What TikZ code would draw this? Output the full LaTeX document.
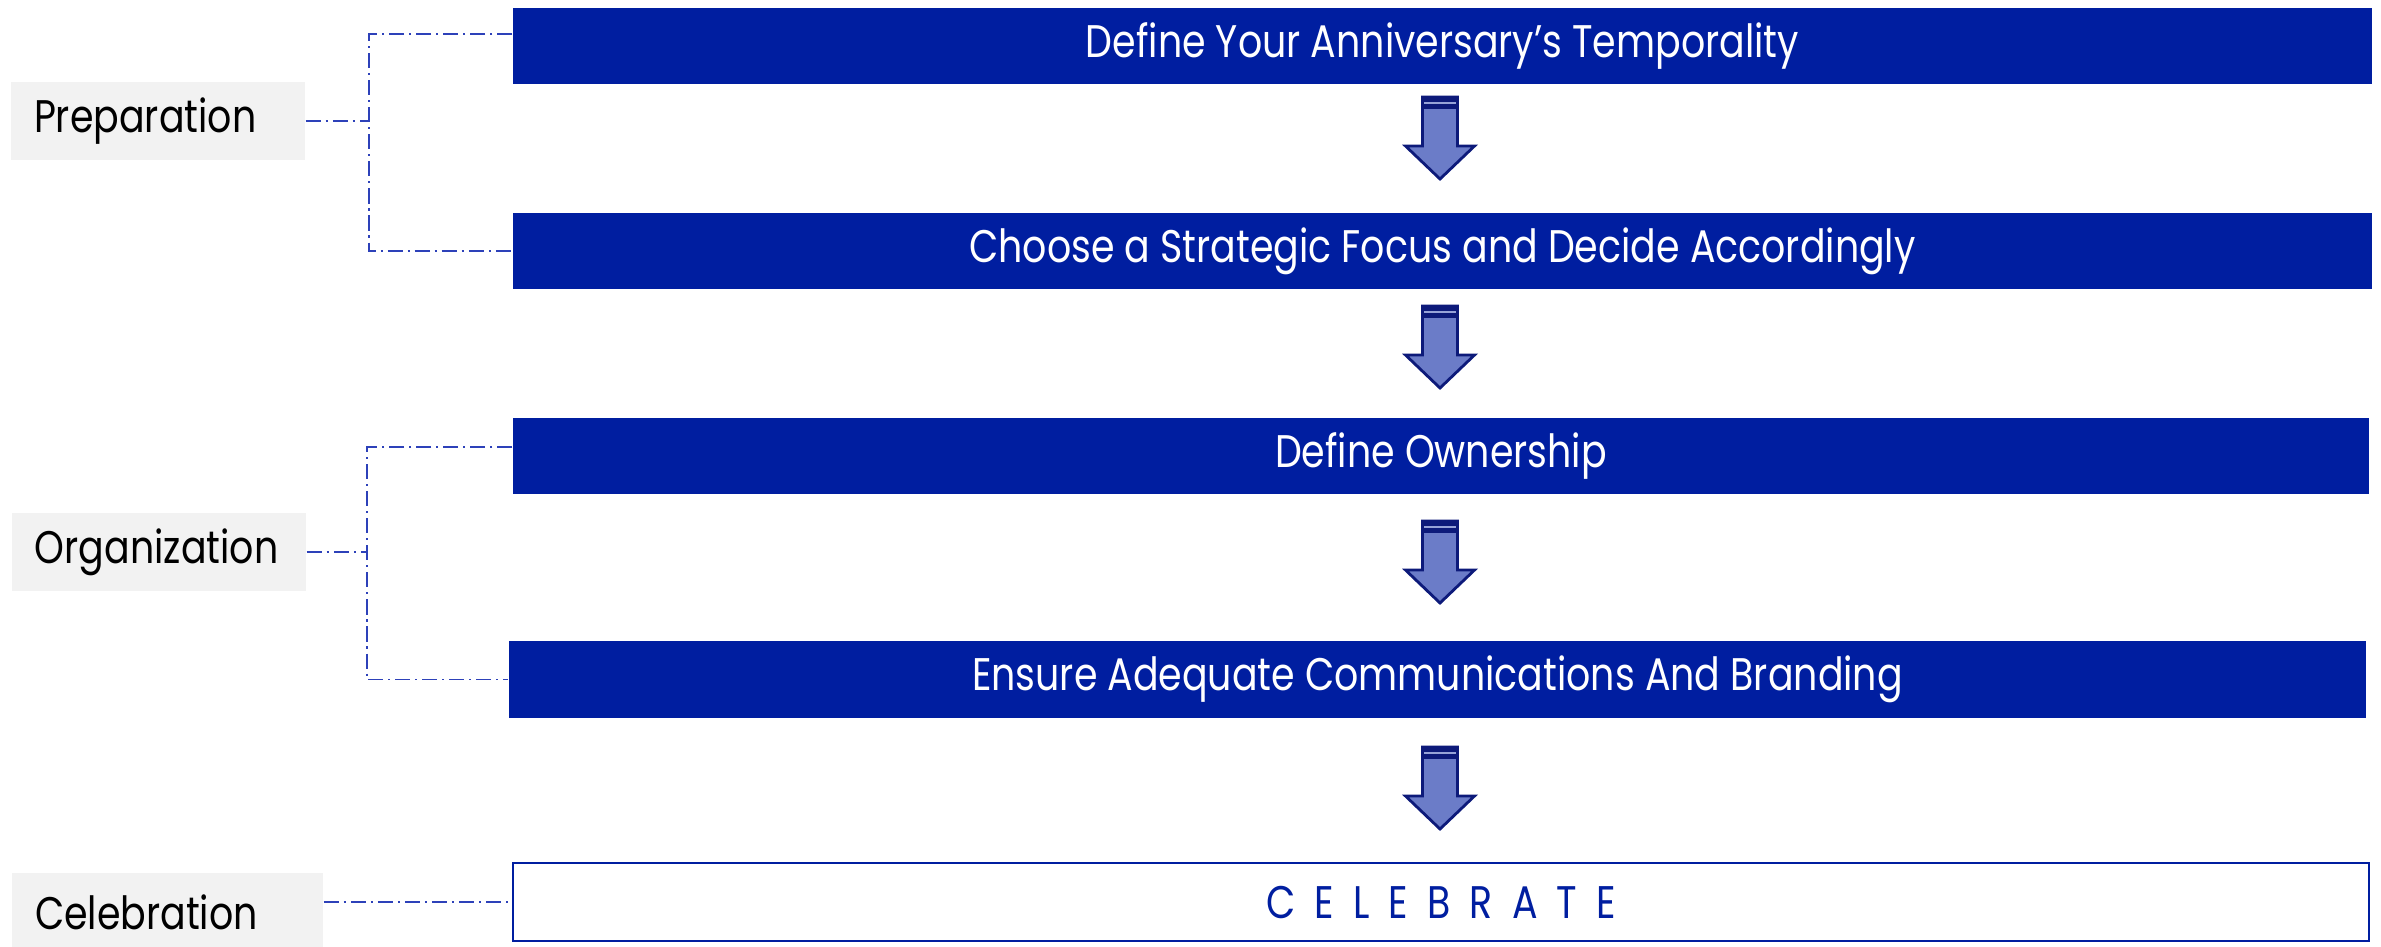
\documentclass[tikz,border=0pt]{standalone}
\usepackage{fontspec}
\setmainfont{Poppins}[FakeStretch=0.83]
\usetikzlibrary{calc}

\definecolor{navy}{RGB}{0,30,160}
\definecolor{arrowfill}{RGB}{107,124,200}
\definecolor{arrowline}{RGB}{13,26,122}
\definecolor{dashblue}{RGB}{45,65,185}
\definecolor{labelgray}{RGB}{242,242,242}

\begin{document}
\begin{tikzpicture}[
    stepbox/.style={fill=navy, text=white, minimum height=0.76cm, inner sep=0pt, font=\fontsize{13}{15}\selectfont},
    phase/.style={fill=labelgray, text=black, text width=2.48cm, inner xsep=0.23cm, inner ysep=0pt, minimum height=0.78cm, align=left, font=\fontsize{13}{15}\selectfont},
    link/.style={draw=dashblue, line width=0.45pt, dash pattern=on 4.3pt off 1.4pt on 0.6pt off 1.4pt}]
    \useasboundingbox (0,0) rectangle (23.81,-9.46);
    \node[stepbox, minimum width=18.59cm] (S1) at (14.425,-0.46) {Define Your Anniversary’s Temporality};
    \node[stepbox, minimum width=18.59cm] (S2) at (14.425,-2.51) {Choose a Strategic Focus and Decide Accordingly};
    \node[stepbox, minimum width=18.56cm] (S3) at (14.41,-4.56) {Define Ownership};
    \node[stepbox, minimum width=18.57cm, minimum height=0.77cm] (S4) at (14.375,-6.795) {Ensure Adequate Communications And Branding};
    \node[stepbox, minimum width=18.56cm, minimum height=0.78cm, fill=white, draw=navy, line width=0.6pt, text=navy] (S5) at (14.41,-9.02) {\addfontfeature{LetterSpace=42}CELEBRATE};
    \node[phase] (P) at (1.58,-1.21) {Preparation};
    \node[phase] (O) at (1.59,-5.52) {Organization};
    \node[phase, text width=2.65cm] (C) at (1.675,-9.12) {Celebration};
    \coordinate (Pt) at (3.69,-0.34); \coordinate (Pb) at (3.69,-2.51);
    \coordinate (Ot) at (3.67,-4.47); \coordinate (Ob) at (3.67,-6.795);
    \draw[link] (P.east) -- (P.east -| Pt);
    \draw[link] (Pt -| S1.west) -- (Pt) -- (Pb) -- (S2.west);
    \draw[link] (O.east) -- (O.east -| Ot);
    \draw[link] (Ot -| S3.west) -- (Ot) -- (Ob) -- (S4.west);
    \draw[link] (C.east |- S5.west) -- (S5.west);
    \foreach \y in {0.97,3.06,5.21,7.47} {
        \begin{scope}[shift={(14.40,-\y)}]
            \draw[fill=arrowfill, draw=arrowline, line width=0.8pt, line join=miter] (-0.175,0) -- (0.175,0) -- (0.175,-0.49) -- (0.345,-0.49) -- (0,-0.82) -- (-0.345,-0.49) -- (-0.175,-0.49) -- cycle;
            \fill[arrowline] (-0.175,0) rectangle (0.175,-0.12);
            \draw[arrowfill!70!white, line width=0.35pt] (-0.16,-0.06) -- (0.16,-0.06);
        \end{scope}
    }
\end{tikzpicture}
\end{document}
